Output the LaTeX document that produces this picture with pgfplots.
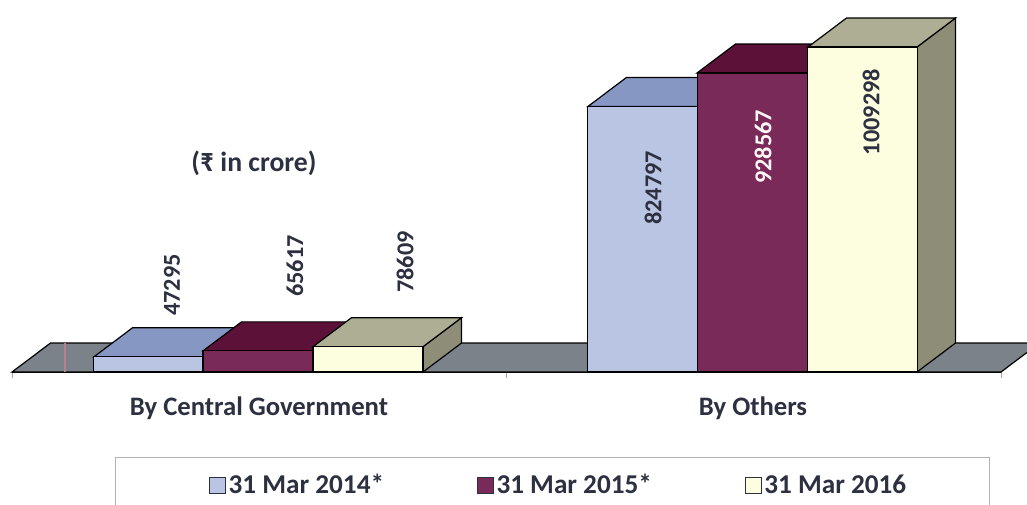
\documentclass[border=0pt]{standalone}
\usepackage{fontspec}
\setmainfont{Carlito}
\usepackage{pgfplots}
\pgfplotsset{compat=1.18}
\definecolor{flr}{HTML}{7C8289}
\definecolor{aF}{HTML}{B9C5E3}
\definecolor{aT}{HTML}{8797C3}
\definecolor{aS}{HTML}{7A88AE}
\definecolor{bF}{HTML}{7A2A58}
\definecolor{bT}{HTML}{5C1238}
\definecolor{bS}{HTML}{4E0F30}
\definecolor{cF}{HTML}{FDFDE0}
\definecolor{cT}{HTML}{AEAE94}
\definecolor{cS}{HTML}{8E8E78}
\definecolor{txt}{HTML}{2C3040}
\definecolor{scan}{HTML}{B8808C}
% one 3D bar: centre, left, right, back left, back right, value, value+depth, colour prefix
\newcommand{\threedbar}[8]{%
  \addplot[forget plot,draw=black,line width=0.9pt,fill=#8S] coordinates {(#3,0) (#5,90000) (#5,#7) (#3,#6)} --cycle;
  \addplot[forget plot,draw=black,line width=0.9pt,fill=#8T] coordinates {(#2,#6) (#4,#7) (#5,#7) (#3,#6)} --cycle;
  \addplot[forget plot,ybar,bar width=82.5pt,bar shift=0pt,draw=black,line width=0.9pt,fill=#8F] coordinates {(#1,#6)};
}
\begin{document}
\begin{tikzpicture}
\useasboundingbox (-9pt,-99pt) rectangle (761.25pt,279pt);
\begin{axis}[
  scale only axis,
  width=741.75pt,height=279pt,
  xmin=12,xmax=1001,
  ymin=0,ymax=1155280,
  clip=false,
  axis x line*=bottom,
  axis y line=none,
  xtick={12,506,1001},
  xticklabels={},
  tick align=outside,
  major tick length=4.5pt,
  x tick style={draw=gray!70,line width=0.5pt},
  x axis line style={draw=black,-},
  extra x ticks={259,753},
  extra x tick labels={By Central Government,By Others},
  extra x tick style={major tick length=0pt,tick label style={font=\bfseries\fontsize{20}{22}\selectfont,text=txt,yshift=-15pt}},
  legend columns=3,
  legend style={at={(axis description cs:0.553,-0.304)},anchor=center,draw=none,fill=none,
    font=\bfseries\fontsize{20.4}{22}\selectfont,text=txt,
    /tikz/every even column/.append style={column sep=67.5pt}},
  legend image code/.code={\draw[line width=0.8pt,#1] (0pt,-6pt) rectangle (12pt,6pt);},
]
\addlegendimage{draw=txt,fill=aF}
\addlegendentry{31 Mar 2014*}
\addlegendimage{draw=txt,fill=bF}
\addlegendentry{31 Mar 2015*}
\addlegendimage{draw=txt,fill=cF}
\addlegendentry{31 Mar 2016}

% legend frame, runs off the bottom of the page as in the scan
\draw[draw=gray!60,line width=0.5pt] (axis cs:115,-263975) rectangle (axis cs:989,-440000);

% floor
\addplot[forget plot,draw=black,line width=0.9pt,fill=flr] coordinates {(12,0) (50.5,90000) (1039.5,90000) (1001,0)} --cycle;
\addplot[forget plot,draw=scan,line width=0.9pt] coordinates {(65,0) (65,90000)};

% By Central Government
\threedbar{148.5}{94}{203}{132.5}{241.5}{47295}{137295}{a}
\threedbar{258}{203}{313}{241.5}{351.5}{65617}{155617}{b}
\threedbar{368}{313}{423}{351.5}{461.5}{78609}{168609}{c}
% By Others
\threedbar{642.5}{588}{697}{626.5}{735.5}{824797}{914797}{a}
\threedbar{752.5}{697}{808}{735.5}{846.5}{928567}{1018567}{b}
\threedbar{862.5}{808}{917}{846.5}{955.5}{1009298}{1099298}{c}

\tikzset{vlab/.style={rotate=90,anchor=center,text=txt,font=\bfseries\fontsize{18.2}{20}\selectfont}}
\node[vlab] at (axis cs:172,270186) {47295};
\node[vlab] at (axis cs:295,329193) {65617};
\node[vlab] at (axis cs:405,341615) {78609};
\node[vlab] at (axis cs:653,571429) {824797};
\node[vlab,text=white!85!pink] at (axis cs:763,698758) {928567};
\node[vlab] at (axis cs:871,807000) {1009298};
\node[anchor=center,text=txt,font=\bfseries\fontsize{20.8}{23}\selectfont] at (axis cs:254,649068) {(₹ in crore)};
\end{axis}
\end{tikzpicture}
\end{document}
